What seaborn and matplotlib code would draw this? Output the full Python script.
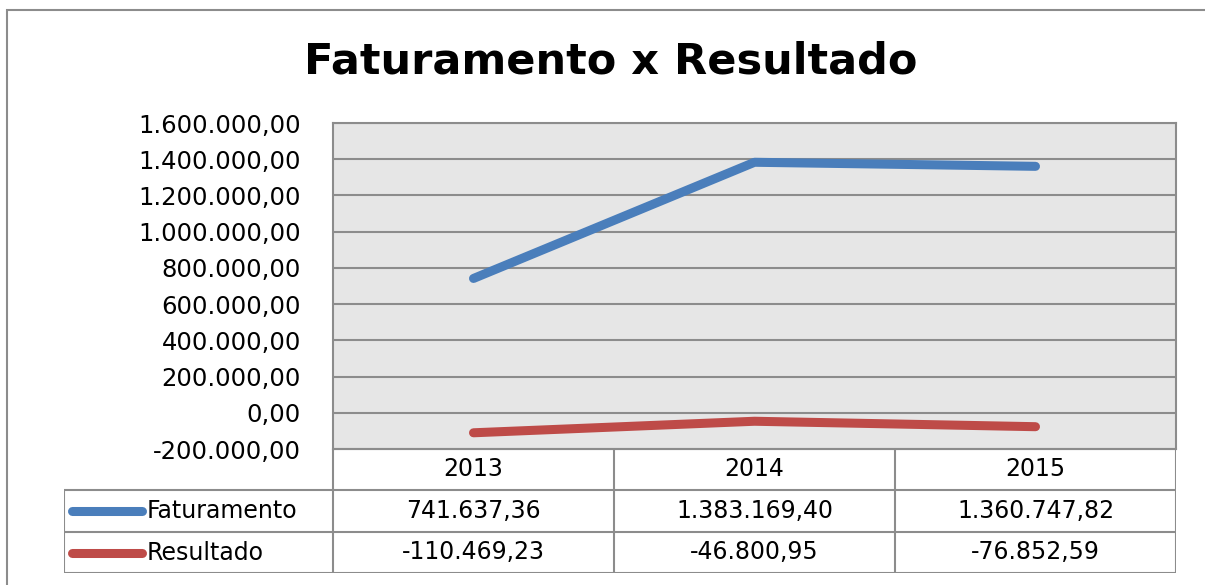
import matplotlib
matplotlib.use("Agg")
import matplotlib.pyplot as plt
import pandas as pd
import seaborn as sns

# Chart data
anos = ["2013", "2014", "2015"]
faturamento = [741637.36, 1383169.40, 1360747.82]
resultado = [-110469.23, -46800.95, -76852.59]
series_nomes = ["Faturamento", "Resultado"]
y_ticks = [-200000, 0, 200000, 400000, 600000, 800000, 1000000, 1200000, 1400000, 1600000]

cores = {"Faturamento": "#4a7ebb", "Resultado": "#be4b48"}
cinza = "#8c8c8c"


def br(v):
    # Brazilian number format: 1.234.567,89
    return f"{v:,.2f}".replace(",", "X").replace(".", ",").replace("X", ".")


df = pd.DataFrame({
    "pos": list(range(len(anos))) * 2,
    "valor": faturamento + resultado,
    "serie": [series_nomes[0]] * len(anos) + [series_nomes[1]] * len(anos),
})

sns.set_style("white")
plt.rcParams["font.family"] = ["DejaVu Sans"]
plt.rcParams["text.color"] = "black"
plt.rcParams["ytick.color"] = "black"

W, H = 1205, 585
fig = plt.figure(figsize=(W / 100, H / 100), dpi=100)

# outer chart border
border = plt.Rectangle((7 / W, -0.05), 1.2, 1 - 10 / H + 0.05, transform=fig.transFigure,
                       fill=False, edgecolor=cinza, linewidth=1.5)
fig.add_artist(border)

# plot area in pixels: x 333..1176, y 123..449
L, R, T, B = 333, 1176, 123, 449
ax = fig.add_axes([L / W, 1 - B / H, (R - L) / W, (B - T) / H])
ax.set_facecolor("#e6e6e6")

sns.lineplot(data=df, x="pos", y="valor", hue="serie", palette=cores, ax=ax,
             linewidth=6.5, legend=False, solid_capstyle="round")

ax.set_xlim(-0.5, len(anos) - 0.5)
ax.set_ylim(y_ticks[0], y_ticks[-1])
ax.set_yticks(y_ticks)
ax.set_yticklabels([br(t) for t in y_ticks], fontsize=17.5)
ax.set_xticks([])
ax.set_xlabel("")
ax.set_ylabel("")
ax.tick_params(axis="y", length=0, pad=23)
ax.grid(axis="y", color=cinza, linewidth=1.5)
ax.set_axisbelow(True)
for s in ax.spines.values():
    s.set_color(cinza)
    s.set_linewidth(1.5)

fig.text(0.507, 1 - 62 / H, "Faturamento x Resultado", ha="center", va="center",
         fontsize=31, fontweight="bold")

# data table below the plot
TL, TB = 64, 573
tab = fig.add_axes([TL / W, 1 - TB / H, (R - TL) / W, (TB - B) / H])
tab.set_xlim(TL, R)
tab.set_ylim(TB, B)
tab.axis("off")
row_y = [B, 490, 532, TB]
col_x = [L + i * (R - L) / len(anos) for i in range(len(anos) + 1)]
lk = dict(color=cinza, linewidth=1.5, solid_capstyle="butt")

# header row (years)
tab.plot([L, R], [row_y[0], row_y[0]], **lk)
for cx in col_x:
    tab.plot([cx, cx], [row_y[0], row_y[3]], **lk)
for i, a in enumerate(anos):
    tab.text((col_x[i] + col_x[i + 1]) / 2, (row_y[0] + row_y[1]) / 2, a,
             ha="center", va="center", fontsize=17)

# series rows
for y in row_y[1:]:
    tab.plot([TL, R], [y, y], **lk)
tab.plot([TL, TL], [row_y[1], row_y[3]], **lk)
for r, (nome, vals) in enumerate(zip(series_nomes, [faturamento, resultado])):
    yc = (row_y[r + 1] + row_y[r + 2]) / 2
    tab.plot([72, 142], [yc, yc], color=cores[nome], linewidth=6.5, solid_capstyle="round")
    tab.text(147, yc, nome, ha="left", va="center", fontsize=17)
    for i, v in enumerate(vals):
        tab.text((col_x[i] + col_x[i + 1]) / 2, yc, br(v), ha="center", va="center", fontsize=17)

fig.savefig("out.png", dpi=100)
